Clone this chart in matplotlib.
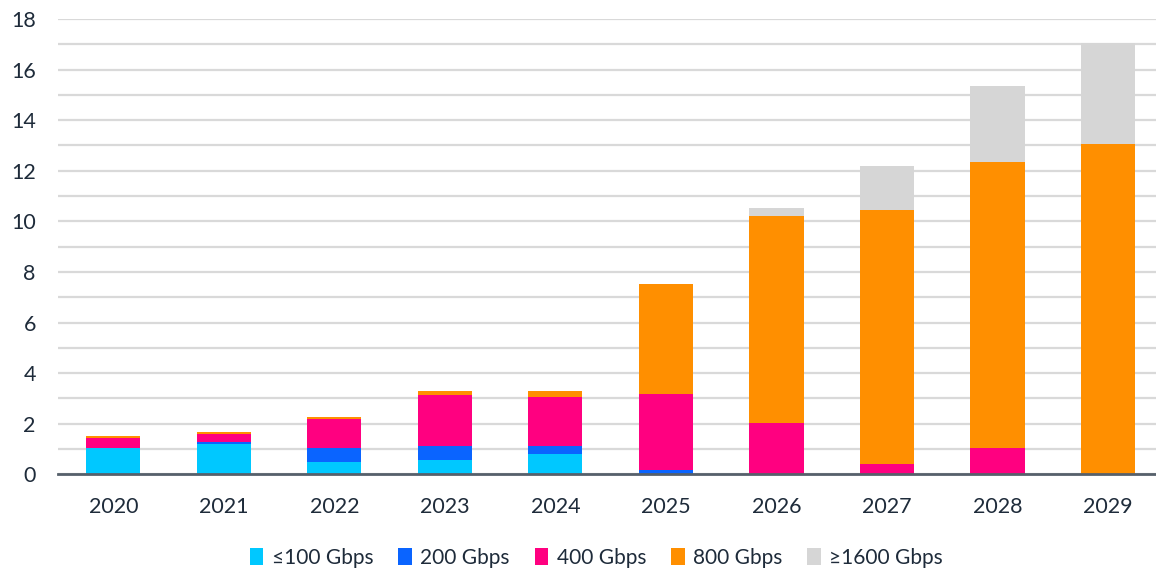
import matplotlib
matplotlib.use("Agg")
import matplotlib.pyplot as plt
import numpy as np

years = ["2020", "2021", "2022", "2023", "2024", "2025", "2026", "2027", "2028", "2029"]
s100 = [1.03, 1.19, 0.48, 0.56, 0.80, 0.00, 0.00, 0.00, 0.00, 0.00]
s200 = [0.00, 0.07, 0.55, 0.55, 0.31, 0.17, 0.00, 0.00, 0.00, 0.00]
s400 = [0.39, 0.32, 1.17, 2.03, 1.95, 3.00, 2.01, 0.41, 1.04, 0.00]
s800 = [0.08, 0.08, 0.08, 0.16, 0.24, 4.36, 8.20, 10.04, 11.31, 13.06]
s1600 = [0.00, 0.00, 0.00, 0.00, 0.00, 0.00, 0.32, 1.74, 3.00, 3.98]
series_names = ["≤100 Gbps", "200 Gbps", "400 Gbps", "800 Gbps", "≥1600 Gbps"]
colors = ["#00C8FF", "#0A64FF", "#FF0080", "#FF8F00", "#D6D6D6"]

plt.rcParams['font.family'] = ['Lato', 'DejaVu Sans']
text_color = "#1E2B3A"

fig = plt.figure(figsize=(11.56, 5.72), dpi=100)
W, H = 1156, 572
left_px, right_px = 58, 1156
bottom_px, top_px = 474.3, 19
ax = fig.add_axes([left_px / W, (H - bottom_px) / H, (right_px - left_px) / W, (bottom_px - top_px) / H])

x = np.arange(len(years))
bottom = np.zeros(len(years))
for vals, name, c in zip([s100, s200, s400, s800, s1600], series_names, colors):
    v = np.array(vals)
    ax.bar(x, v, bottom=bottom, width=0.49, color=c, label=name, zorder=3, linewidth=0)
    bottom += v

spacing = 110.6
ax.set_xlim(-0.5, 9 + (right_px - 1108) / spacing)
ax.set_ylim(0, 18)
ax.set_xticks(x)
ax.set_xticklabels(years)
ax.set_yticks(np.arange(0, 19, 2))
ax.set_yticks(np.arange(1, 18, 2), minor=True)
ax.grid(axis='y', which='both', color="#D9D9D9", linewidth=1.6, zorder=0)
ax.tick_params(axis='both', which='both', length=0, labelsize=15.5, colors=text_color)
ax.tick_params(axis='x', pad=16)
ax.tick_params(axis='y', pad=16)
for side in ['top', 'right', 'left']:
    ax.spines[side].set_visible(False)
ax.spines['bottom'].set_color("#56606B")
ax.spines['bottom'].set_linewidth(2)
ax.spines['bottom'].set_zorder(4)

fig.legend(loc='center', bbox_to_anchor=(0.516, (H - 558) / H), ncol=5, frameon=False,
           fontsize=15, handlelength=0.65, handleheight=0.9, handletextpad=0.4,
           columnspacing=1.2, labelcolor=text_color)

fig.savefig("out.png", dpi=100)
